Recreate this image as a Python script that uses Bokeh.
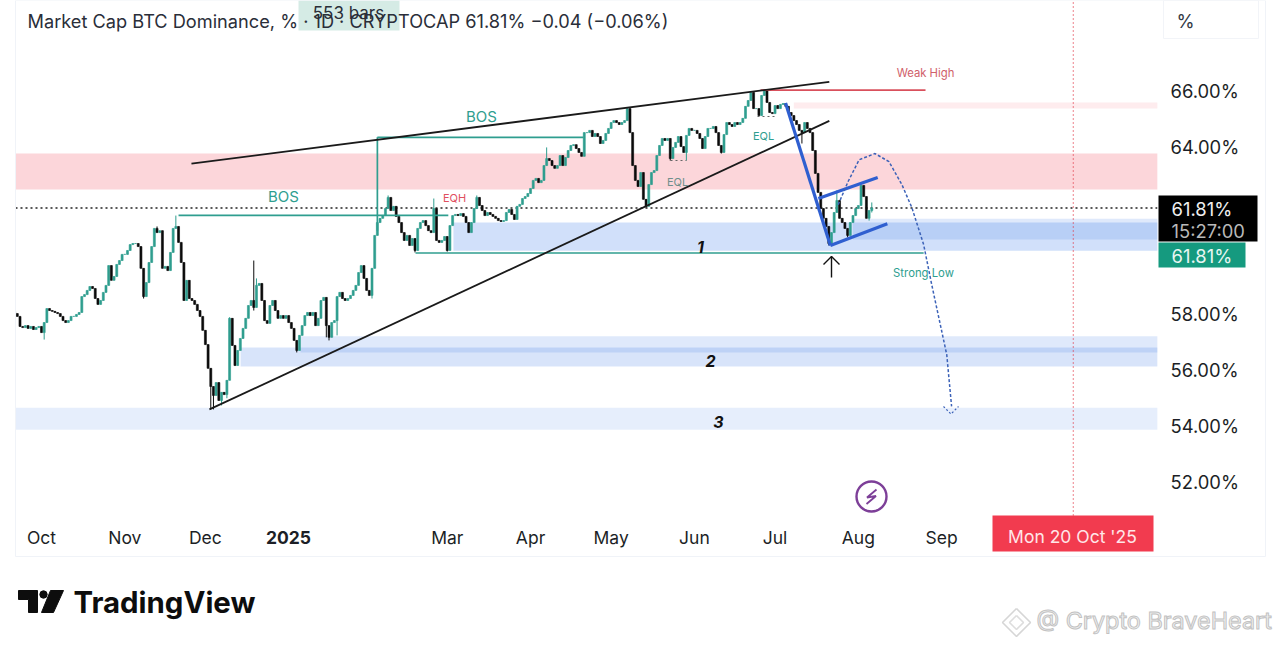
from bokeh.plotting import figure
from bokeh.models import ColumnDataSource, Range1d, FixedTicker
from bokeh.core.properties import value
from bokeh.embed import file_html
from bokeh.resources import INLINE

# ---- daily closes of Market Cap BTC Dominance, %  (first candle = 21 Sep 2024) ----
closes = [
 58.03,57.93,57.57,57.53,57.60,57.50,57.57,57.46,57.53,57.57,
 57.35,57.71,58.21,58.14,58.11,58.07,58.03,57.93,57.78,57.71,
 57.78,57.93,57.93,58.00,58.07,58.64,58.71,58.86,59.00,58.93,
 58.57,58.36,58.50,58.79,59.04,59.75,59.22,59.36,59.79,59.93,
 60.15,60.15,60.29,60.50,60.54,60.54,60.43,59.65,58.64,59.14,
 59.86,60.43,61.08,60.93,61.00,59.65,59.72,59.57,60.22,61.08,
 61.15,60.58,59.86,58.50,59.22,58.57,58.50,58.36,58.14,57.93,
 57.43,56.92,56.07,55.42,55.10,55.56,54.92,55.21,55.13,55.64,
 57.86,56.89,56.17,56.71,57.14,57.50,57.86,58.32,58.50,58.25,
 59.04,59.11,58.50,57.78,57.68,58.32,58.50,58.14,57.86,57.96,
 57.86,57.96,57.71,57.50,57.07,56.71,57.25,57.60,57.96,58.07,
 57.96,58.07,57.60,57.86,58.50,58.61,57.60,57.18,57.71,57.78,
 58.64,58.79,58.57,58.50,58.57,58.68,58.86,59.04,59.50,59.75,
 59.29,58.86,58.68,59.65,60.83,61.29,61.44,61.54,61.79,62.19,
 61.72,61.87,61.51,61.29,60.93,60.65,60.83,60.47,60.72,60.29,
 61.08,61.29,61.36,61.18,61.00,60.93,61.79,60.65,60.58,60.65,
 60.79,60.29,61.18,61.54,61.58,61.54,61.61,61.51,61.29,60.93,
 61.29,61.79,62.19,61.90,61.72,61.54,61.65,61.58,61.51,61.44,
 61.36,61.33,61.36,61.65,61.76,61.58,61.40,61.87,61.94,62.15,
 62.22,62.33,62.51,62.80,62.87,62.72,62.80,63.33,63.58,63.51,
 63.33,63.23,63.33,63.69,63.33,63.62,63.87,64.05,64.08,63.94,
 63.80,63.66,64.51,64.51,64.59,64.37,64.48,64.37,64.12,64.23,
 64.48,64.66,64.87,64.94,64.87,64.80,64.87,64.94,65.37,64.51,
 63.33,62.80,62.58,63.08,62.12,61.87,62.65,63.08,63.15,63.69,
 64.05,64.30,64.23,64.30,63.58,63.98,64.16,64.37,64.01,63.80,
 64.41,64.66,64.59,64.59,64.48,64.30,63.94,64.37,64.66,64.66,
 64.73,64.51,64.05,63.80,64.44,64.87,64.80,64.73,64.87,64.80,
 64.87,65.02,65.45,65.66,65.95,65.37,65.37,65.12,65.84,66.02,
 65.59,65.23,65.19,65.48,65.37,65.52,65.55,65.45,65.23,65.12,
 64.94,64.80,64.59,64.51,64.87,64.66,64.51,63.87,63.05,62.37,
 61.79,61.44,61.15,60.54,60.93,61.65,62.08,61.44,61.29,61.08,
 60.83,61.29,61.54,61.79,61.90,62.62,62.22,61.44,61.72,61.81,
]
first_open = 58.10
# candles whose wick stands out from the body: candle number -> value
high_wicks = {53:61.15, 60:61.54, 80:57.90, 89:59.93, 90:59.29, 139:62.26, 156:62.15,
              172:62.26, 198:63.98, 274:66.00, 279:66.05, 306:62.44, 315:62.65, 319:62.01}
low_wicks  = {11:57.10, 48:58.57, 73:54.60, 74:54.60, 77:54.74, 79:55.00, 89:58.14,
              105:56.64, 116:57.18, 117:57.07, 120:57.25, 133:58.57, 149:60.22, 161:60.25,
              235:61.83, 244:63.51, 250:63.51, 263:63.76, 293:64.12, 303:60.47, 310:60.76,
              318:61.36, 319:61.65}

# axes: x = days since 1 Oct 2024
month_days   = [0, 31, 61, 151, 182, 212, 243, 273, 304, 335]
month_labels = ["Oct", "Nov", "Dec", "Mar", "Apr", "May", "Jun", "Jul", "Aug", "Sep"]
year_label = "2025"
marker_day, marker_label = 384, "Mon 20 Oct '25"
pct_ticks = [52, 54, 56, 58, 64, 66]
last_price = 61.81

# drawings, as (day, percent)
upper_trend = [(55.8, 63.40), (293.2, 66.33)]
lower_trend = [(62.5, 54.60), (293.2, 64.93)]
bos_levels = [(51.0, 151.4, 61.55), (125.0, 201.7, 64.34)]
bos_riser  = (125.0, 61.0, 64.34)
level_one  = (139.2, 328.3, 60.20)
weak_high  = (267.6, 329.0, 66.03)
impulse    = [(276.9, 65.57), (293.6, 60.47)]
channel_hi = [(289.1, 62.15), (311.2, 62.90)]
channel_lo = [(293.6, 60.47), (314.8, 61.25)]
path_x = [296.5, 300.2, 304.3, 310.2, 315.4, 320.2, 323.9, 328.3, 331.3, 336.9, 338.7]
path_y = [61.93, 62.76, 63.54, 63.76, 63.47, 62.65, 61.83, 60.50, 59.07, 56.56, 54.71]
zones = [  # left, right, bottom, top, colour, alpha
    (-9.7, 415.4, 62.47, 63.76, "#f9a9b2", 0.48),
    (280.0, 415.4, 65.37, 65.59, "#f9a9b2", 0.22),
    (153.3, 415.4, 60.28, 61.29, "#3a78e8", 0.23),
    (302.0, 415.4, 60.68, 61.43, "#3a78e8", 0.16),
    (96.4, 415.4, 56.64, 57.22, "#3a78e8", 0.16),
    (74.1, 415.4, 56.14, 56.82, "#3a78e8", 0.20),
    (-9.7, 415.4, 53.87, 54.66, "#3a78e8", 0.13),
]

GREEN, DOWN, TEAL = "#2f9e8f", "#0b0b0b", "#2f9e8f"
FONT = "Inter"
W, H = 1276, 640
PX0, PX1, PY0, PY1 = 15, 1157, 0, 520   # chart frame, in page pixels


def dx(px):
    return (px - 41) / 2.687


def vy(py):
    return 66 - (py - 90.5) / 27.93


p = figure(width=W, height=H, output_backend="svg", toolbar_location=None,
           x_range=Range1d(dx(PX0), dx(PX1)), y_range=Range1d(vy(PY1), vy(PY0)),
           y_axis_location="right", min_border_left=PX0, min_border_right=W - PX1,
           min_border_top=PY0, min_border_bottom=H - PY1)
p.outline_line_color = None
p.grid.visible = False
p.background_fill_color = "white"

ax = p.xaxis[0]
ax.ticker = FixedTicker(ticks=month_days)
ax.major_label_overrides = dict(zip(month_days, month_labels))
ay = p.yaxis[0]
ay.ticker = FixedTicker(ticks=pct_ticks)
ay.major_label_overrides = {t: f"{t:.2f}%" for t in pct_ticks}
for a in (ax, ay):
    a.axis_line_color = None
    a.major_tick_line_color = None
    a.minor_tick_line_color = None
    a.major_tick_out = 0
    a.major_label_text_font = FONT
    a.major_label_text_color = "#1c1f26"
ax.major_label_text_font_size = "17.5px"
ay.major_label_text_font_size = "18.4px"
ax.major_label_standoff = 6
ay.major_label_standoff = 13

# zones
for l, r, b, t, c, al in zones:
    p.quad(left=[l], right=[r], bottom=[b], top=[t], fill_color=c, fill_alpha=al, line_color=None)

# price line and date marker
p.line([dx(PX0), dx(PX1)], [last_price, last_price], line_color="#222222", line_width=1.4,
       line_dash="2 3")
p.line([marker_day, marker_day], [vy(515), vy(PY0)], line_color="#e0303f", line_width=1.2,
       line_dash="1 3")

# candles
opens = [first_open] + closes[:-1]
days = [i - 10 for i in range(len(closes))]
highs = [high_wicks.get(i, max(o, c)) for i, (o, c) in enumerate(zip(opens, closes))]
lows = [low_wicks.get(i, min(o, c)) for i, (o, c) in enumerate(zip(opens, closes))]
cols = [GREEN if c >= o else DOWN for o, c in zip(opens, closes)]
src = ColumnDataSource(dict(d=days, o=opens, c=closes, h=highs, l=lows, col=cols))
p.segment("d", "h", "d", "l", source=src, line_color="col", line_width=1)
p.vbar("d", 0.75, "o", "c", source=src, fill_color="col", line_color="col", line_width=0.6)

# level lines
for x0, x1, v in bos_levels + [level_one]:
    p.line([x0, x1], [v, v], line_color=TEAL, line_width=1.7)
p.line([bos_riser[0]] * 2, [bos_riser[1], bos_riser[2]], line_color=TEAL, line_width=1.7)
p.line([weak_high[0], weak_high[1]], [weak_high[2]] * 2, line_color="#d9505c", line_width=1.6)
p.line([dx(670), dx(686)], [vy(160)] * 2, line_color="#666666", line_width=1.2, line_dash="2 3")
p.line([dx(757), dx(774)], [vy(116)] * 2, line_color="#666666", line_width=1.2, line_dash="2 3")

# trend lines
for seg in (upper_trend, lower_trend):
    p.line(*zip(*seg), line_color="#1a1a1a", line_width=1.8)
for seg in (impulse, channel_hi, channel_lo):
    p.line(*zip(*seg), line_color="#2f5fd0", line_width=3.2)
p.line(path_x, path_y, line_color="#3c62b8", line_width=1.5, line_dash="3 2")
p.line([dx(943), dx(950.5), dx(958)], [vy(406), vy(413.5), vy(406)], line_color="#3c62b8",
       line_width=1.2, line_dash="2 2")

# up arrow
p.line([dx(831), dx(831)], [vy(277), vy(256)], line_color="#111111", line_width=1.4)
p.line([dx(823), dx(831), dx(839)], [vy(264), vy(256), vy(264)], line_color="#111111", line_width=1.4)

# purple circle with bolt
p.circle([dx(871)], [vy(496)], radius=15, radius_units="screen", fill_color=None,
         line_color="#7d3f98", line_width=2.4)
p.line([dx(876), dx(866.5), dx(875.5), dx(866)], [vy(489), vy(497), vy(495.5), vy(503.5)],
       line_color="#7d3f98", line_width=1.8)


def ctext(fig, conv_x, conv_y, s, x, y, size, color, align="left", style="normal", **kw):
    fig.text([conv_x(x)], [conv_y(y)], text=[s], text_font=value(FONT), text_font_size=f"{size}px",
             text_color=color, text_align=align, text_baseline="middle", text_font_style=style, **kw)


def t(*a, **k):
    ctext(p, dx, vy, *a, **k)


t("BOS", 283, 196, 15, TEAL, "center")
t("BOS", 481, 116, 15, TEAL, "center")
t("EQH", 454, 197, 11, "#e0505f", "center")
t("EQL", 677, 181, 11, "#6f8f8c", "center")
t("EQL", 763, 135, 11, TEAL, "center")
t("Weak High", 925, 72.5, 11.3, "#d0606a", "center")
t("Strong Low", 923, 272, 11.3, TEAL, "center")
t("1", 700, 246, 16, "#111111", "center", style="bold italic")
t("2", 710, 360, 16, "#111111", "center", style="bold italic")
t("3", 718, 421, 16, "#111111", "center", style="bold italic")

# ---- transparent overlay, one unit = one page pixel: header, tags, footer ----
o = figure(width=W, height=H, output_backend="svg", toolbar_location=None,
           x_range=Range1d(0, W), y_range=Range1d(H, 0), x_axis_location=None, y_axis_location=None,
           min_border=0, background_fill_color=None, border_fill_color=None, outline_line_color=None)
o.grid.visible = False
o.margin = (-H, 0, 0, 0)


def ot(*a, **k):
    ctext(o, lambda v: v, lambda v: v, *a, **k)


def rect(x0, y0, x1, y1, fill=None, line=None):
    o.quad(left=[x0], right=[x1], top=[y0], bottom=[y1], fill_color=fill, line_color=line,
           line_width=1)


rect(15, 0, 1265, 556, line="#f0f3f8")
rect(1163, 0, 1258, 38, line="#f2f4f8")
rect(298, 0, 399, 30, fill="#d5ebe5")
ot("553 bars", 348, 12.5, 17, "#2a2e39", "center")
ot("Market Cap BTC Dominance, % · 1D · CRYPTOCAP  61.81%  −0.04 (−0.06%)", 27, 20.5, 18.2, "#2a2e39")
ot("%", 1185, 20, 18.4, "#333a45", "center")

rect(1158, 195, 1257, 241, fill="#000000")
rect(1158, 242, 1245, 267, fill="#159a7f")
ot("61.81%", 1171, 208, 18.4, "#f0f0f0")
ot("15:27:00", 1171, 230, 18.4, "#b9b9b9")
ot("61.81%", 1171, 255, 18.4, "#e8f6f2")

rect(992, 515, 1153, 551, fill="#f23b4f")
ot(marker_label, 1072, 536, 17.5, "#ffe6e8", "center")
ot(year_label, 288, 537, 17.5, "#1c1f26", "center", style="bold")

# TradingView logo
o.patch([18, 37, 37, 28, 28, 18], [590, 590, 612, 612, 599, 599], color="#0d0d0d")
o.patch([50, 63, 53, 41], [590, 590, 612, 612], color="#0d0d0d")
o.circle([43], [594], radius=3.7, radius_units="screen", color="#0d0d0d")
ot("TradingView", 73, 602, 29.4, "#0d0d0d", style="bold")

# watermark
o.line([1016, 1030, 1016, 1002, 1016], [608, 622, 636, 622, 608], line_color="#d6d6d6", line_width=1.6)
o.line([1016, 1023, 1016, 1009, 1016], [615, 622, 629, 622, 615], line_color="#dddddd", line_width=1.6)
ot("@ Crypto BraveHeart", 1036, 620, 23.4, "#f3f3f3", text_outline_color="#c2c2c2")

open("out.html", "w").write(file_html([p, o], INLINE))
